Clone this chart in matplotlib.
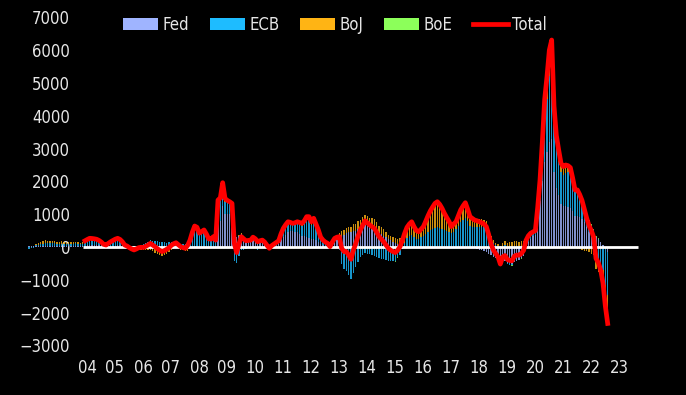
import numpy as np
import matplotlib
matplotlib.use("Agg")
import matplotlib.pyplot as plt

plt.rcParams['font.family'] = ['DejaVu Sans']
plt.rcParams['font.stretch'] = 'condensed'

# monthly changes, Jan 2002 .. Sep 2022 (USD bn)
fed = [
    20, 20, 20, 30, 30, 30, 40, 40, 40, 40, 30, 30,            # 2002
    30, 30, 40, 40, 40, 40, 40, 40, 40, 40, 40, 40,            # 2003
    40, 50, 60, 60, 60, 60, 50, 50, 40, 40, 40, 40,            # 2004
    40, 40, 50, 50, 40, 30, 30, 30, 30, 30, 30, 30,            # 2005
    30, 30, 30, 40, 40, 40, 40, 40, 30, 30, 30, 30,            # 2006
    30, 30, 30, 30, 20, 20, 20, 10, 20, 10, 0, 0,              # 2007
    0, -20, -10, 0, 0, -10, 0, 10, 20, 700, 800, 1250,         # 2008
    1000, 1000, 1020, 1050, 500, 300, 350, 400, 320, 250, 230, 220,  # 2009
    250, 240, 220, 200, 150, 100, 60, 30, 20, 20, 40, 80,      # 2010
    200, 300, 380, 450, 480, 480, 470, 450, 400, 350, 330, 300,  # 2011
    280, 250, 240, 200, 150, 100, 60, 30, 20, 0, 60, 120,      # 2012
    200, 300, 350, 380, 420, 450, 450, 480, 500, 550, 600, 650,  # 2013
    700, 680, 650, 640, 620, 540, 450, 400, 350, 300, 250, 200,  # 2014
    150, 110, 80, 60, 30, 20, 10, 0, 0, -10, -20, -30,         # 2015
    -30, -30, -20, -20, -20, -20, -20, -10, -10, -10, -10, -10,  # 2016
    -10, -10, -10, 0, 0, 0, 0, 0, -10, -20, -30, -40,          # 2017
    -60, -80, -100, -130, -160, -200, -250, -300, -330, -380, -450, -420,  # 2018
    -440, -480, -500, -520, -450, -420, -400, -350, -260, 0, 150, 250,  # 2019
    350, 380, 900, 1400, 2000, 2600, 2900, 3200, 3300, 2300, 1800, 1600,  # 2020
    1300, 1250, 1250, 1230, 1200, 1100, 950, 950, 900, 850, 750, 600,  # 2021
    450, 420, 380, 300, 250, 150, 50, -50, -150,                # 2022
]
ecb = [
    -60, -40, -20, 20, 40, 60, 60, 80, 80, 90, 90, 80,
    70, 60, 60, 50, 50, 60, 50, 60, 70, 60, 50, 60,
    100, 120, 130, 130, 120, 110, 100, 60, 20, 10, 40, 70,
    100, 130, 140, 120, 90, 40, 30, 10, 0, -10, 0, 10,
    40, 50, 80, 110, 160, 150, 150, 130, 120, 110, 110, 100,
    110, 120, 120, 120, 90, 70, 60, 80, 140, 240, 420, 560,
    520, 380, 420, 450, 350, 230, 210, 270, 160, 620, 600, 610,
    380, 330, 280, 200, -420, -480, -260, -100, -80, -60, -40, -20,
    30, 0, -80, -40, 40, 40, -20, -80, 10, 60, 90, 90,
    150, 210, 240, 250, 200, 180, 200, 240, 270, 290, 380, 520,
    550, 430, 530, 420, 300, 150, 100, 70, 40, -60, 30, 80,
    20, -100, -520, -660, -720, -850, -990, -800, -600, -450, -300, -250,
    -180, -200, -220, -250, -270, -300, -330, -360, -380, -400, -420, -430,
    -440, -420, -320, -250, -50, 100, 250, 330, 380, 300, 230, 230,
    300, 330, 400, 470, 520, 550, 580, 600, 580, 560, 520, 480,
    460, 420, 470, 540, 650, 750, 820, 880, 780, 650, 620, 600,
    610, 620, 620, 620, 590, 450, 260, 130, 50, 20, -100, 40,
    50, -30, -50, -40, 30, 40, 20, 20, 40, 60, 60, 60,
    50, 60, 180, 400, 800, 1300, 1600, 2000, 2200, 1500, 1200, 1000,
    1000, 950, 1000, 1050, 1050, 900, 780, 800, 700, 620, 480, 330,
    300, 230, 140, -400, -450, -500, -700, -1100, -1300,
]
boj = [
    0, 10, 20, 30, 50, 60, 70, 80, 70, 60, 60, 60,
    60, 70, 70, 60, 50, 60, 60, 40, 40, 50, 40, 40,
    50, 60, 75, 70, 70, 65, 50, 40, 20, 10, 30, 50,
    60, 70, 75, 60, 30, -10, -30, -60, -90, -110, -90, -60,
    -80, -95, -90, -90, -90, -130, -180, -220, -250, -280, -250, -200,
    -160, -100, -50, -20, -40, -80, -100, -130, -110, -40, 30, 80,
    80, 60, 60, 70, 50, 30, 30, 35, 30, 110, 100, 100,
    100, 90, 80, 80, 30, 10, 10, 15, 10, 0, 10, 10,
    20, 10, 20, 30, 20, 10, 10, 10, 10, 10, 10, 20,
    50, 60, 60, 70, 70, 60, 70, 80, 75, 80, 90, 105,
    95, 90, 105, 80, 70, 50, 50, 50, 50, 70, 60, 65,
    80, 115, 130, 140, 160, 150, 165, 220, 200, 230, 220, 260,
    280, 260, 240, 230, 220, 210, 195, 200, 190, 160, 130, 130,
    150, 170, 170, 200, 220, 300, 340, 370, 390, 330, 290, 265,
    270, 320, 400, 500, 600, 690, 770, 790, 730, 630, 520, 430,
    330, 210, 240, 230, 300, 380, 430, 470, 380, 295, 280, 260,
    250, 230, 220, 210, 190, 130, 90, 80, 80, 60, 30, 80,
    130, 130, 140, 150, 140, 150, 140, 150, 140, 150, 140, 120,
    60, 60, 100, 200, 300, 450, 500, 550, 560, 380, 300, 260,
    170, 170, 170, 130, 110, 40, -40, -50, -60, -90, -120, -130,
    -160, -200, -250, -280, -300, -350, -420, -600, -820,
]
boe = [
    0, 0, 0, 0, 0, 0, 0, 0, 0, 0, 0, 0,
    0, 0, 0, 0, 0, 0, 0, 0, 0, 0, 0, 0,
    0, 0, 0, 0, 0, 0, 0, 0, 0, 0, 0, 0,
    0, 0, 0, 0, 0, 0, 0, 0, 0, 0, 0, 0,
    0, 0, 0, 0, 0, 0, 0, 0, 0, 0, 0, 0,
    0, 0, 0, 0, 0, 0, 0, 0, 0, 0, 0, 0,
    0, 0, 0, 0, 0, 0, 0, 0, 0, 0, 0, 0,
    0, 0, 0, 0, 0, 0, 0, 0, 0, 0, 0, 0,
    0, 0, 0, 0, 0, 0, 0, 0, 0, 0, 0, 0,
    0, 0, 0, 0, 0, 0, 0, 0, 0, 0, 0, 0,
    0, 0, 0, 0, 0, 0, 0, 0, 0, 0, 0, 0,
    0, 0, 0, 0, 0, 0, 0, 0, 0, 0, 0, 0,
    0, 0, 0, 0, 0, 0, 0, 0, 0, 0, 0, 0,
    0, -30, -30, 0, 0, 0, 0, 0, 0, 0, 0, 0,
    0, 0, 0, 0, 0, 0, 0, 0, 0, 0, 0, 0,
    0, 0, 0, 0, 0, 0, 0, 0, 0, 0, 0, 0,
    0, 0, 0, 0, 0, 0, 0, 0, 0, 0, 0, 0,
    0, 0, 0, -10, 0, -15, -10, -20, -20, -10, -10, -10,
    0, 0, 20, 40, 100, 150, 200, 250, 250, 120, 100, 100,
    80, 80, 80, 70, 60, 60, 50, 40, 60, 40, 40, 80,
    60, 50, 30, 30, 20, 0, -30, -50, -60,
]
names = ['Fed', 'ECB', 'BoJ', 'BoE']
colors = ['#9fb4ff', '#1ebcff', '#ffb414', '#8cff5a']
years = np.arange(2004, 2024)
year_labels = ['%02d' % (y % 100) for y in years]
line_start = 2004  # total line drawn from Jan 2004

t = 2002 + np.arange(len(fed)) / 12.0
series = [np.array(s, dtype=float) for s in (fed, ecb, boj, boe)]
total = sum(series)

fig = plt.figure(figsize=(6.86, 3.95), dpi=100)
fig.patch.set_facecolor('black')
ax = fig.add_axes([0, 0, 1, 1])
ax.set_facecolor('black')

pos = np.zeros(len(t))
neg = np.zeros(len(t))
handles = []
for s, name, c in zip(series, names, colors):
    bottom = np.where(s >= 0, pos, neg)
    b = ax.bar(t, s, width=0.55 / 12, bottom=bottom, color=c, label=name,
               linewidth=0, zorder=2, alpha=0.8)
    handles.append(b)
    pos += np.clip(s, 0, None)
    neg += np.clip(s, None, 0)

ax.hlines(0, 2003.93, 2023.75, color='white', lw=2, zorder=3)
m = t >= line_start - 1e-6
ln, = ax.plot(t[m], total[m], color='#ff0000', lw=3.4, label='Total',
              zorder=4, solid_joinstyle='round')
handles.append(ln)

ax.set_xlim(2000.964, 2025.464)
ax.set_ylim(-4512, 7530)
ax.set_yticks(np.arange(-3000, 7001, 1000))
ax.set_xticks(years + 0.07)
ax.set_xticklabels(year_labels)
ax.tick_params(axis='y', length=0, pad=-50.4, labelsize=12, colors='#e6e6e6')
ax.tick_params(axis='x', length=0, pad=-26, labelsize=12, colors='#e6e6e6')
for sp in ax.spines.values():
    sp.set_visible(False)

leg = ax.legend(handles=handles, loc='center left',
                bbox_to_anchor=(0.18, 0.937), ncol=5,
                frameon=False, fontsize=12, handlelength=2.1,
                handletextpad=0.25, columnspacing=1.25, borderpad=0,
                borderaxespad=0)
for txt in leg.get_texts():
    txt.set_color('#e6e6e6')
for h in leg.legend_handles[:4]:
    h.set_alpha(1)

fig.savefig('out.png', dpi=100, facecolor='black')
